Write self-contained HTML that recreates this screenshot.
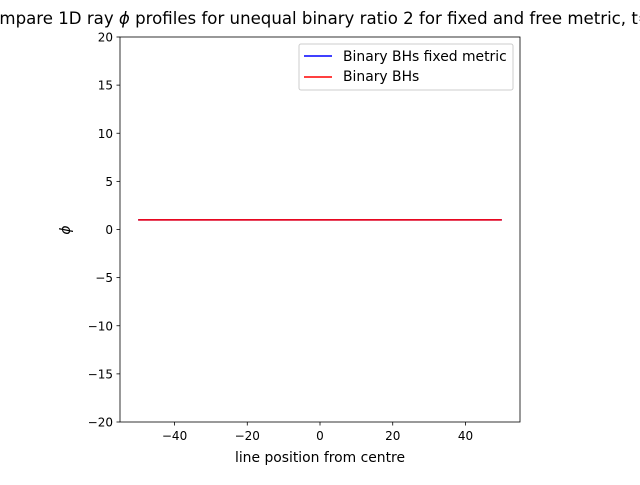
<!DOCTYPE html>
<html><head><meta charset="utf-8"><style>
body{margin:0;background:#fff;}
svg text{font-family:"DejaVu Sans","Liberation Sans",sans-serif;}
</style></head><body>
<svg width="640" height="480" viewBox="0 0 640 480" id="chart">
<rect x="0" y="0" width="640" height="480" fill="#fff"/>
<text x="320" y="24" font-size="16.6" text-anchor="middle">Compare 1D ray <tspan font-style="italic">ϕ</tspan> profiles for unequal binary ratio 2 for fixed and free metric, t=0</text>
<g id="xticks"></g><g id="yticks"></g><g id="lines"></g>
<rect x="120" y="37" width="400" height="385" fill="none" stroke="#000" stroke-width="0.8"/>
<text x="320" y="462" font-size="13.9" text-anchor="middle">line position from centre</text>
<text x="70" y="230" font-size="13.9" font-style="italic" text-anchor="middle" transform="rotate(-90 70 230)">ϕ</text>
<g>
<rect x="299" y="44" width="214" height="46" fill="#fff" stroke="#ccc" rx="2"/>
<line x1="304" y1="56" x2="332" y2="56" stroke="#0000ff" stroke-width="1.5"/>
<text x="343" y="61" font-size="13.9">Binary BHs fixed metric</text>
<line x1="304" y1="77" x2="332" y2="77" stroke="#ff0000" stroke-width="1.5"/>
<text x="343" y="81" font-size="13.9">Binary BHs</text>
</g>
</svg>
<script>
const xTicks=[-40,-20,0,20,40];
const yTicks=[-20,-15,-10,-5,0,5,10,15,20];
const positions=[-50,-25,0,25,50];
const fixedPhi=[1,1,1,1,1];
const freePhi=[1,1,1,1,1];
const NS="http://www.w3.org/2000/svg";
function X(v){return 120+(v+55)/110*400;}
function Y(v){return 37+(20-v)/40*385;}
function mk(t,a,p){const e=document.createElementNS(NS,t);for(const k in a)e.setAttribute(k,a[k]);p.appendChild(e);return e;}
const xg=document.getElementById('xticks'),yg=document.getElementById('yticks'),lg=document.getElementById('lines');
xTicks.forEach(v=>{
const l=mk('line',{x1:X(v),x2:X(v),y1:422,y2:425.5,stroke:'#000','stroke-width':0.8},xg);


const t=mk('text',{x:X(v),y:440,'font-size':12,'text-anchor':'middle'},xg);
t.textContent=v<0?'−'+Math.abs(v):v;


});
yTicks.forEach(v=>{
const l=mk('line',{x1:116.5,x2:120,y1:Y(v),y2:Y(v),stroke:'#000','stroke-width':0.8},yg);


const t=mk('text',{x:113,y:Y(v)+4.5,'font-size':12,'text-anchor':'end'},yg);
t.textContent=v<0?'−'+Math.abs(v):v;


});
function series(vals,color,name){
const p=mk('polyline',{points:positions.map((x,i)=>X(x)+','+Y(vals[i])).join(' '),fill:'none',stroke:color,'stroke-width':1.5},lg);


}
series(fixedPhi,'#0000ff','line-fixed-metric');
series(freePhi,'#ff0000','line-binary-bhs');
</script>
</body></html>
